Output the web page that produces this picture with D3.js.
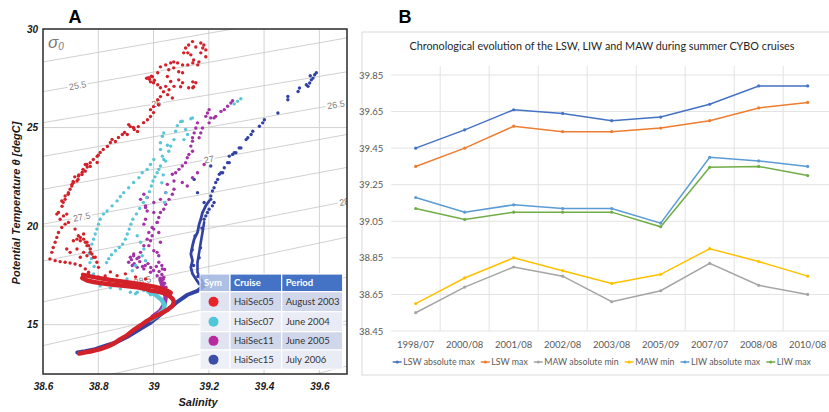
<!DOCTYPE html>
<meta charset="utf-8">
<script src="https://cdn.jsdelivr.net/npm/d3@7"></script>
<style>
  body { margin: 0; background: #fff; }
</style>
<div id="chart"></div>
<script>
// ---------------- panel A data ----------------
const cruises = ["HaiSec05", "HaiSec07", "HaiSec11", "HaiSec15"];
const periods = ["August 2003", "June 2004", "June 2005", "July 2006"];
const salTicks = [38.6, 38.8, 39, 39.2, 39.4, 39.6];
const tempTicks = [15, 20, 25, 30];

// isopycnals: temperature where each sigma-0 line meets S=38.6 and S=39.7
const isoSigma  = [25, 25.5, 26, 26.5, 27, 27.5, 28, 28.5, 29, 29.5, 30];
const isoTLeft  = [28.33, 26.82, 25.25, 23.54, 21.87, 20.10, 18.23, 16.16, 13.94, 11.7, 9.0];
const isoTRight = [31.0, 29.55, 27.83, 26.26, 24.65, 22.98, 21.26, 19.44, 17.42, 15.2, 12.9];
const isoLabelSigma = [25.5, 26, 26.5, 27, 27.5, 28, 28.5];
const isoLabelText  = ["25.5", "26", "26.5", "27", "27.5", "28", "28.5"];
const isoLabelS     = [38.725, 39.01, 39.66, 39.2, 38.74, 39.69, 38.96];

// [salinity, potential temperature]
const redDots = [
  [39.141,29.36],[39.127,29.19],[39.116,29.04],[39.109,28.79],[39.124,28.79],[39.135,28.69],[39.153,29.09],[39.171,29.29],
  [39.182,29.19],[39.178,29.04],[39.189,28.94],[39.171,28.79],[39.145,28.43],[39.164,28.33],[39.189,28.59],[39.160,28.18],
  [39.142,28.28],[39.124,28.18],[39.105,28.18],[39.087,28.28],[39.073,28.33],[39.062,28.28],[39.044,28.18],[39.055,27.93],
  [39.073,28.03],[39.091,27.83],[39.105,27.78],[39.091,27.42],[39.105,27.27],[39.098,27.07],[39.142,27.32],[39.145,27.07],
  [39.127,27.02],[39.153,27.27],[39.142,27.02],[39.050,27.59],[39.062,27.34],[39.074,27.09],[39.044,27.09],[39.056,26.92],
  [39.068,26.50],
  [39.025,28.08],[39.015,27.78],[38.996,27.58],[38.982,27.53],[38.989,27.32],[39.000,27.27],[39.015,27.17],[39.025,27.02],
  [39.036,26.82],[39.051,26.67],[39.025,26.57],[39.015,26.41],[39.018,26.16],[39.000,26.06],[38.989,25.91],[39.000,25.76],
  [38.989,25.56],[38.978,25.40],[38.964,25.25],[38.945,25.05],[38.927,25.00],[38.916,25.05],[38.942,24.80],[38.905,24.65],
  [38.887,24.65],[38.873,24.50],[38.862,24.29],[38.844,24.24],[38.833,24.04],[38.818,23.89],[38.807,23.74],[38.796,23.54],
  [38.782,23.38],[38.796,23.23],[38.771,23.03],[38.753,23.13],[38.745,22.88],[38.742,22.73],[38.727,22.37],[38.709,22.27],
  [38.705,22.12],[38.698,21.87],[38.691,21.62],[38.680,21.36],[38.673,21.21],[38.669,21.01],
  [38.985,27.45],[38.992,27.60],[39.003,27.40],[38.975,27.50],[38.910,25.15],[38.930,24.90],[38.895,24.75],[38.850,24.40],
  [38.800,23.60],[38.760,23.00],[38.730,22.60],[38.715,22.50],
  [38.771,23.22],[38.759,23.13],[38.753,22.79],[38.741,22.62],[38.728,22.54],[38.723,22.29],[38.710,22.21],[38.704,22.04],
  [38.692,21.70],[38.680,21.53],
  [38.668,21.28],[38.656,20.69],[38.650,20.61],[38.662,20.35],[38.674,20.52],[38.686,20.61],[38.692,20.19],[38.680,20.10],
  [38.668,19.93],[38.656,19.68],[38.650,19.43],[38.644,19.18],[38.637,18.92],[38.632,18.67],[38.625,18.33],[38.644,18.25],
  [38.662,18.20],[38.680,18.17],[38.698,18.13],[38.716,18.08],[38.735,18.00],[38.753,17.83],[38.765,17.66],
  [38.710,19.26],[38.723,19.34],[38.735,19.43],[38.747,19.34],[38.759,19.18],[38.765,19.01],[38.771,18.67],[38.783,18.42],
  [38.747,18.67],[38.723,18.84],[38.686,18.84],[38.698,18.67],
  [38.735,18.42],[38.759,18.50],[38.771,18.84],[38.777,18.59],[38.789,18.42],[38.795,18.17],[38.801,17.91],[38.759,19.01],
  [38.753,19.18],[38.735,19.26],[38.728,19.51],[38.747,19.60],[38.716,19.85],
  [38.764,17.58],[38.800,17.42],[38.868,17.49],[38.825,17.47],[38.844,17.68],[38.898,17.58],[38.935,17.42],[38.971,17.32]
];
const redTrail = [
  [38.742,17.37],[38.760,17.24],[38.783,17.17],[38.807,17.12],[38.832,17.07],[38.862,17.02],[38.892,16.98],[38.916,16.94],
  [38.941,16.90],[38.964,16.84],[38.989,16.74],[39.011,16.69],[39.033,16.62],[39.056,16.48],[39.069,16.31],[39.074,16.16],
  [39.069,15.96],[39.051,15.76],[39.025,15.56],[39.001,15.39],[38.975,15.18],[38.953,14.96],[38.927,14.72],[38.904,14.46],
  [38.880,14.27],[38.856,14.04],[38.832,13.89],[38.807,13.76],[38.771,13.64],[38.749,13.59],[38.731,13.54]
];
const redTrailTop = [
  [38.745,17.53],[38.789,17.40],[38.844,17.27],[38.898,17.17],[38.953,17.05],[39.007,16.92],[39.044,16.77],[39.062,16.62]
];

const cyanDots = [
  [39.316,26.46],[39.304,26.33],[39.292,26.20],
  [39.141,25.49],[39.135,25.45],[39.104,25.32],[39.098,25.30],[39.086,25.10],[39.080,24.81],[39.116,24.90],[39.123,24.65],
  [39.110,24.39],[39.074,24.39],[39.062,24.06],[39.037,24.73],[39.032,24.56],[39.025,24.23],[39.025,23.89],[39.032,23.55],
  [39.037,23.38],[39.044,23.30],[39.050,24.10],[39.055,23.80],
  [39.025,23.05],[39.019,22.88],[39.013,22.71],[39.005,22.50],[38.998,22.29],[38.992,22.04],[38.985,21.75],[38.975,21.45],
  [38.963,21.20],[38.950,20.90],[38.938,20.62],[38.925,20.35],[38.918,20.10],[38.912,19.85],[38.905,19.60],[38.898,19.34],
  [38.888,19.09],[38.876,18.92],[38.862,18.75],[38.848,18.55],[38.838,18.35],[38.830,18.15],
  [39.001,23.38],[38.989,23.13],[38.977,22.88],[38.959,22.71],[38.947,22.46],[38.928,22.21],[38.910,21.95],[38.892,21.70],
  [38.880,21.50],[38.868,21.28],[38.850,21.03],[38.832,20.77],[38.819,20.61],[38.807,20.35],[38.801,20.10],[38.795,19.85],
  [38.789,19.60],[38.783,19.34],[38.777,19.09],[38.771,18.84],[38.768,18.60],[38.775,18.35],[38.770,18.15],[38.785,17.95],
  [38.941,19.51],[38.953,19.18],[38.965,18.84],[38.959,18.50],[38.971,18.25],[38.935,18.00],[38.923,17.74],[38.904,17.32],
  [38.923,16.90],[38.941,16.65],[38.965,16.73],
  [39.035,22.60],[39.030,22.20],[39.045,21.70],[39.040,21.20],
  [38.783,17.58],[38.771,17.24],[38.916,16.65],[38.935,16.57],[38.880,16.82],[38.844,16.87],[38.807,16.97],[38.989,16.52]
];
const cyanTrail = [
  [38.982,16.67],[39.007,16.52],[39.029,16.26],[39.040,16.01],[39.036,15.76],[39.018,15.51],[38.989,15.25]
];

const purpleDots = [
  [39.286,26.36],[39.280,26.25],[39.268,26.08],[39.256,25.91],[39.244,25.82],[39.225,25.57],[39.201,25.91],[39.195,25.74],
  [39.189,25.57],[39.201,25.24],[39.207,25.49],[39.159,25.24],[39.153,24.98],[39.177,24.98],[39.171,24.73],[39.147,24.73],
  [39.141,24.48],[39.165,24.48],[39.219,25.49],
  [39.141,24.31],[39.135,24.06],[39.141,23.80],[39.128,23.64],[39.122,23.47],[39.116,23.22],[39.104,23.05],[39.092,22.88],
  [39.080,22.71],[39.068,22.63],[39.074,22.29],[39.104,22.21],[39.122,22.04],[39.141,22.46],[39.159,22.71],[39.183,23.13],
  [39.050,22.12],[39.044,21.70],[38.977,21.45],[38.971,20.94],[39.001,21.20],[39.025,21.36],
  [39.074,21.87],[39.068,21.62],[39.056,21.36],[39.044,21.11],[39.037,20.86],[39.025,20.69],[39.019,20.44],[39.013,20.19],
  [39.001,19.85],[38.995,19.51],[38.989,19.26],[38.983,19.01],[39.001,18.75],[39.019,18.50],
  [38.965,21.62],[38.953,21.36],[38.971,21.03],[38.977,20.77],[38.971,20.35],[38.965,20.10],[38.995,19.93],[38.983,19.68],
  [38.977,19.34],[38.965,19.01],[38.953,18.67],[38.947,18.42],[38.928,18.50],
  [38.928,18.59],[38.916,18.42],[38.910,18.17],[38.923,18.00],[38.941,17.91],[38.965,17.83],[38.989,17.66],[39.013,17.49],
  [39.025,17.24],[39.032,16.98],[39.037,16.73],
  [39.001,20.69],[39.013,20.19],[39.019,19.68],[39.025,19.18],[39.013,18.67],[39.019,18.17],[39.032,17.83],[39.037,17.41],
  [38.920,18.30],[38.930,18.10],[38.950,18.20],[38.970,18.00],[38.990,17.90],[39.000,17.75],[39.020,17.70],[39.030,17.55],
  [39.035,17.30],[39.040,17.10],[39.045,16.90],[38.960,17.95],[39.010,17.95],[38.980,18.10],[38.940,18.35],[39.030,18.00],
  [39.040,17.80]
];
const purpleTrail = [
  [39.025,17.32],[39.036,16.82],[39.044,16.41],[39.040,16.06],[39.025,15.71],[38.996,15.40]
];

const blueDots = [
  [39.583,27.68],[39.577,27.51],[39.571,27.42],[39.565,27.26],[39.559,27.09],[39.553,27.17],[39.528,27.01],[39.523,26.83],
  [39.486,26.58],[39.486,26.41],[39.450,25.74],[39.401,25.40],[39.395,25.24],[39.383,25.07],[39.359,24.81],[39.353,24.65],
  [39.341,24.48],[39.335,24.39],[39.589,27.78],[39.567,27.63],
  [39.310,23.97],[39.298,23.72],[39.286,23.64],[39.274,23.55],[39.268,23.22],[39.256,22.96],[39.250,22.71],[39.238,22.63],
  [39.232,22.37],[39.225,22.21],[39.219,21.95],[39.213,21.78],[39.207,21.53],[39.219,21.20],[39.213,21.03],[39.201,20.86],
  [39.195,20.69],[39.189,20.52],[39.183,20.35],[39.316,23.97],[39.292,23.72],[39.274,23.22],[39.244,22.71],[39.207,21.36],
  [39.147,22.37],[39.159,21.70],[39.207,23.05],[39.183,21.20],
  [39.150,19.50],[39.140,18.80],[39.145,18.00],[39.170,18.90],[39.165,18.40],[39.175,19.90],[39.160,17.45]
];
const blueColumn = [
  [39.201,21.28],[39.189,21.03],[39.177,20.69],[39.171,20.35],[39.165,20.10],[39.159,19.68],[39.147,19.34],[39.141,19.01],
  [39.135,18.59],[39.141,18.25],[39.135,17.91],[39.141,17.58],[39.153,17.32],[39.165,17.07],[39.182,16.97]
];
const blueTrail = [
  [39.182,16.97],[39.159,16.72],[39.123,16.52],[39.086,16.16],[39.055,15.81],[39.025,15.51],[38.989,15.10],[38.953,14.80],
  [38.904,14.38],[38.862,14.09],[38.832,13.96],[38.789,13.76],[38.753,13.66],[38.724,13.59]
];
const blueTrail2 = [
  [39.183,20.19],[39.177,19.68],[39.171,19.18],[39.165,18.67],[39.159,18.17],[39.159,17.66],[39.171,17.32],[39.182,17.07]
];

// ---------------- panel B data ----------------
const categories = ["1998/07", "2000/08", "2001/08", "2002/08", "2003/08", "2005/09", "2007/07", "2008/08", "2010/08"];
const yTicksB = [38.45, 38.65, 38.85, 39.05, 39.25, 39.45, 39.65, 39.85];
const seriesNames = ["LSW absolute max", "LSW max", "MAW absolute min", "MAW min", "LIW absolute max", "LIW max"];
const lswAbsMax = [39.45, 39.55, 39.66, 39.64, 39.60, 39.62, 39.69, 39.79, 39.79];
const lswMax    = [39.35, 39.45, 39.57, 39.54, 39.54, 39.56, 39.60, 39.67, 39.70];
const mawAbsMin = [38.55, 38.69, 38.80, 38.75, 38.61, 38.67, 38.82, 38.70, 38.65];
const mawMin    = [38.60, 38.74, 38.85, 38.78, 38.71, 38.76, 38.90, 38.83, 38.75];
const liwAbsMax = [39.18, 39.10, 39.14, 39.12, 39.12, 39.04, 39.40, 39.38, 39.35];
const liwMax    = [39.12, 39.06, 39.10, 39.10, 39.10, 39.02, 39.345, 39.35, 39.30];

// ---------------- drawing ----------------
const W = 829, H = 412;
const svg = d3.select("#chart").append("svg").attr("width", W).attr("height", H)
  .style("font-family", "'Liberation Sans', Arial, sans-serif");
svg.append("rect").attr("width", W).attr("height", H).attr("fill", "#fff");

// ===== Panel A =====
const A = {left: 43, right: 347, top: 29, bottom: 374};
const xS = d3.scaleLinear().domain([38.6, 39.7]).range([A.left, A.right]);
const yT = d3.scaleLinear().domain([12.5, 30]).range([A.bottom, A.top]);

svg.append("defs").append("clipPath").attr("id", "clipA")
  .append("rect").attr("x", A.left).attr("y", A.top)
  .attr("width", A.right - A.left).attr("height", A.bottom - A.top);

const gA = svg.append("g");
const plotA = gA.append("g").attr("clip-path", "url(#clipA)");

// grid
plotA.selectAll(".vg").data(salTicks.slice(1)).enter().append("line")
  .attr("x1", d => xS(d)).attr("x2", d => xS(d)).attr("y1", A.top).attr("y2", A.bottom)
  .attr("stroke", "#d2d2d2").attr("stroke-width", 1);
plotA.selectAll(".hg").data(tempTicks.slice(0, 3)).enter().append("line")
  .attr("x1", A.left).attr("x2", A.right).attr("y1", d => yT(d)).attr("y2", d => yT(d))
  .attr("stroke", "#d2d2d2").attr("stroke-width", 1);

// isopycnals
plotA.selectAll(".iso").data(isoSigma).enter().append("line")
  .attr("x1", xS(38.6)).attr("x2", xS(39.7))
  .attr("y1", (d, i) => yT(isoTLeft[i])).attr("y2", (d, i) => yT(isoTRight[i]))
  .attr("stroke", "#c4c4c4").attr("stroke-width", 0.8);

isoLabelSigma.forEach((sg, k) => {
  const i = isoSigma.indexOf(sg);
  const f = (isoLabelS[k] - 38.6) / 1.1;
  const t = isoTLeft[i] + f * (isoTRight[i] - isoTLeft[i]);
  const ang = Math.atan2(yT(isoTRight[i]) - yT(isoTLeft[i]), xS(39.7) - xS(38.6)) * 180 / Math.PI;
  plotA.append("text")
    .attr("transform", `translate(${xS(isoLabelS[k])},${yT(t)}) rotate(${ang})`)
    .attr("text-anchor", "middle").attr("dy", "0.35em")
    .attr("font-size", 9).attr("fill", "#808080")
    .attr("stroke", "#fff").attr("stroke-width", 4).attr("paint-order", "stroke")
    .text(isoLabelText[k]);
});

// sigma-0 label
const sig = gA.append("text").attr("x", 48).attr("y", 48).attr("fill", "#7a7a7a")
  .attr("font-style", "italic").attr("font-size", 17);
sig.append("tspan").text("σ");
sig.append("tspan").attr("font-size", 10).attr("dy", 2).text("0");

const lineA = d3.line().x(d => xS(d[0])).y(d => yT(d[1])).curve(d3.curveLinear);
function trail(data, color, w) {
  plotA.append("path").datum(data).attr("d", lineA).attr("fill", "none")
    .attr("stroke", color).attr("stroke-width", w)
    .attr("stroke-linecap", "round").attr("stroke-linejoin", "round");
}
function dots(data, color) {
  plotA.append("g").selectAll("circle").data(data).enter().append("circle")
    .attr("cx", d => xS(d[0])).attr("cy", d => yT(d[1])).attr("r", 1.7).attr("fill", color);
}
const cBlue = "#3242a3", cPurple = "#a232a6", cCyan = "#58c6d6", cRed = "#d3212a";
dots(blueDots, cBlue);
trail(blueTrail2, cBlue, 2.6);
trail(blueColumn, cBlue, 2.8);
trail(blueTrail, cBlue, 4);
dots(purpleDots, cPurple);
trail(purpleTrail, cPurple, 4.5);
dots(cyanDots, cCyan);
trail(cyanTrail, cCyan, 4.5);
dots(redDots, cRed);
trail(redTrailTop, cRed, 4.5);
trail(redTrail, cRed, 4.5);

// frame
gA.append("rect").attr("x", A.left).attr("y", A.top)
  .attr("width", A.right - A.left).attr("height", A.bottom - A.top)
  .attr("fill", "none").attr("stroke", "#2a2a2a").attr("stroke-width", 1.5);

// axes
const axX = gA.append("g").attr("transform", `translate(0,${A.bottom})`)
  .call(d3.axisBottom(xS).tickValues(salTicks).tickSize(0).tickPadding(9).tickFormat(d => String(d)));
const axY = gA.append("g").attr("transform", `translate(${A.left},0)`)
  .call(d3.axisLeft(yT).tickValues(tempTicks).tickSize(0).tickPadding(5).tickFormat(d => String(d)));
[axX, axY].forEach(ax => {
  ax.select(".domain").remove();
  ax.selectAll("text").attr("font-family", "'Liberation Sans', Arial, sans-serif")
    .attr("font-size", 10).attr("font-weight", "bold").attr("font-style", "italic").attr("fill", "#1a1a1a");
});
gA.append("text").attr("x", 198).attr("y", 406).attr("text-anchor", "middle")
  .attr("font-size", 11).attr("font-weight", "bold").attr("font-style", "italic").attr("fill", "#1a1a1a")
  .text("Salinity");
gA.append("text").attr("transform", "translate(20,203) rotate(-90)").attr("text-anchor", "middle")
  .attr("font-size", 11).attr("font-weight", "bold").attr("font-style", "italic").attr("fill", "#1a1a1a")
  .text("Potential Temperature θ [degC]");
gA.append("text").attr("x", 75).attr("y", 23).attr("text-anchor", "middle")
  .attr("font-size", 18).attr("font-weight", "bold").text("A");

// legend table
const symColors = ["#e8242b", "#4fc7d8", "#b82a9e", "#3c4ea8"];
const tbl = gA.append("g").attr("font-family", "Lato, 'Open Sans', sans-serif").attr("font-size", 9.5);
const colX = [200, 230, 281.7, 342.7];
const rowY = [274, 291.7, 311.7, 331.7, 350, 369.3];
const headers = ["Sym", "Cruise", "Period"];
headers.forEach((h, c) => {
  tbl.append("rect").attr("x", colX[c]).attr("y", rowY[0])
    .attr("width", colX[c + 1] - colX[c]).attr("height", rowY[1] - rowY[0])
    .attr("fill", c === 0 ? "#9fb4df" : "#4472c4").attr("opacity", c === 0 ? 0.85 : 1)
    .attr("stroke", "#fff").attr("stroke-width", 1.2);
  tbl.append("text").attr("x", colX[c] + 4).attr("y", (rowY[0] + rowY[1]) / 2).attr("dy", "0.35em")
    .attr("fill", "#fff").attr("font-weight", "bold").text(h);
});
cruises.forEach((cr, r) => {
  const y0 = rowY[r + 1], y1 = rowY[r + 2];
  const band = r % 2 === 0 ? "#cfd5ea" : "#e9ebf5";
  [0, 1, 2].forEach(c => {
    tbl.append("rect").attr("x", colX[c]).attr("y", y0)
      .attr("width", colX[c + 1] - colX[c]).attr("height", y1 - y0)
      .attr("fill", c === 0 ? (r % 2 === 0 ? "#dfe3f1" : "#eef0f7") : band)
      .attr("opacity", 0.95).attr("stroke", "#fff").attr("stroke-width", 1.2);
  });
  tbl.append("circle").attr("cx", 213.5).attr("cy", (y0 + y1) / 2).attr("r", 5).attr("fill", symColors[r]);
  tbl.append("text").attr("x", colX[1] + 4).attr("y", (y0 + y1) / 2).attr("dy", "0.35em")
    .attr("fill", "#333").text(cr);
  tbl.append("text").attr("x", colX[2] + 4).attr("y", (y0 + y1) / 2).attr("dy", "0.35em")
    .attr("fill", "#333").text(periods[r]);
});

// ===== Panel B =====
const B = {left: 391.2, right: 832.2, top: 75, bottom: 331};
const xB = d3.scaleBand().domain(categories).range([B.left, B.right]).padding(0);
const yB = d3.scaleLinear().domain([38.45, 39.85]).range([B.bottom, B.top]);
const gB = svg.append("g").attr("font-family", "Lato, 'Open Sans', sans-serif");

gB.append("rect").attr("x", 362).attr("y", 32).attr("width", 500).attr("height", 343)
  .attr("fill", "#fff").attr("stroke", "#d9d9d9").attr("stroke-width", 1);
gB.append("text").attr("x", 405).attr("y", 23).attr("text-anchor", "middle")
  .attr("font-family", "'Liberation Sans', Arial, sans-serif")
  .attr("font-size", 18).attr("font-weight", "bold").text("B");
gB.append("text").attr("x", 602).attr("y", 50).attr("text-anchor", "middle")
  .attr("font-size", 10.8).attr("fill", "#1f1f1f")
  .text("Chronological evolution of the LSW, LIW and MAW during summer CYBO cruises");

gB.selectAll(".hgB").data(yTicksB).enter().append("line")
  .attr("x1", B.left).attr("x2", B.right).attr("y1", d => yB(d)).attr("y2", d => yB(d))
  .attr("stroke", "#e3e3e3").attr("stroke-width", 1);
gB.selectAll(".vgB").data(categories.slice(1)).enter().append("line")
  .attr("x1", d => xB(d)).attr("x2", d => xB(d)).attr("y1", B.top - 9).attr("y2", B.bottom)
  .attr("stroke", "#e3e3e3").attr("stroke-width", 1);

const axYB = gB.append("g").attr("transform", `translate(${B.left - 8},0)`)
  .call(d3.axisLeft(yB).tickValues(yTicksB).tickSize(0).tickPadding(0).tickFormat(d3.format(".2f")));
const axXB = gB.append("g").attr("transform", `translate(0,${B.bottom})`)
  .call(d3.axisBottom(xB).tickSize(0).tickPadding(10));
[axYB, axXB].forEach(ax => {
  ax.select(".domain").remove();
  ax.selectAll("text").attr("font-family", "Lato, 'Open Sans', sans-serif")
    .attr("font-size", 9.5).attr("fill", "#595959");
});

const seriesVals = [lswAbsMax, lswMax, mawAbsMin, mawMin, liwAbsMax, liwMax];
const seriesColors = ["#4472c4", "#ed7d31", "#a5a5a5", "#ffc000", "#5b9bd5", "#70ad47"];
const lineB = d3.line().x((d, i) => xB(categories[i]) + xB.bandwidth() / 2).y(d => yB(d));
seriesVals.forEach((vals, s) => {
  gB.append("path").datum(vals).attr("d", lineB).attr("fill", "none")
    .attr("stroke", seriesColors[s]).attr("stroke-width", 1.5);
  gB.append("g").selectAll("circle").data(vals).enter().append("circle")
    .attr("cx", (d, i) => xB(categories[i]) + xB.bandwidth() / 2).attr("cy", d => yB(d))
    .attr("r", 1.6).attr("fill", seriesColors[s]);
});

// legend: one row between x=392.7 and x=811.7, font fitted to the row
const legY = 362, legStart = 392.7, legEnd = 811.7, markW = 9, markGap = 1.5, itemGap = 6;
const legItems = seriesNames.map((n, s) => {
  const g = gB.append("g");
  const t = g.append("text").attr("y", legY).attr("dy", "0.35em")
    .attr("font-size", 10).attr("fill", "#595959").text(n);
  return {g, t, s};
});
const rawW = d3.sum(legItems, d => d.t.node().getComputedTextLength());
const room = legEnd - legStart - legItems.length * (markW + markGap) - (legItems.length - 1) * itemGap;
const legFont = Math.min(10.5, 10 * room / rawW);
let cx = legStart;
legItems.forEach(it => {
  it.t.attr("font-size", legFont);
  const w = it.t.node().getComputedTextLength();
  it.g.append("line").attr("x1", cx).attr("x2", cx + markW).attr("y1", legY).attr("y2", legY)
    .attr("stroke", seriesColors[it.s]).attr("stroke-width", 1.5);
  it.g.append("circle").attr("cx", cx + markW / 2).attr("cy", legY).attr("r", 1.6).attr("fill", seriesColors[it.s]);
  it.t.attr("x", cx + markW + markGap);
  cx += markW + markGap + w + itemGap;
});
</script>
